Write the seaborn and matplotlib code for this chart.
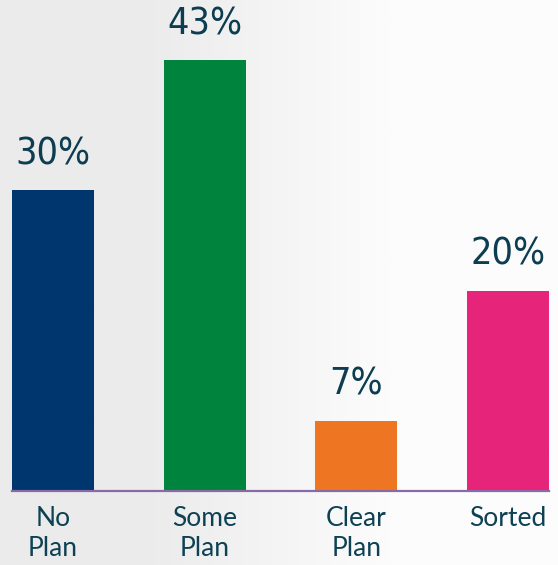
import numpy as np
import pandas as pd
import matplotlib.pyplot as plt
import seaborn as sns

categories = ["No Plan", "Some Plan", "Clear Plan", "Sorted"]
tick_labels = ["No\nPlan", "Some\nPlan", "Clear\nPlan", "Sorted"]
values = [30, 43, 7, 20]
colors = ["#00366e", "#00843d", "#ee7623", "#e6247a"]

df = pd.DataFrame({"plan": categories, "pct": values})

sns.set_style("white")
plt.rcParams["font.family"] = ["Lato", "DejaVu Sans"]

fig = plt.figure(figsize=(5.58, 5.65), dpi=100)

# soft grey-to-white background
bg = fig.add_axes([0, 0, 1, 1], zorder=-1)
grad = np.linspace(0, 1, 300)
grad = np.clip((grad - 0.25) / 0.45, 0, 1)
img = np.tile(grad, (50, 1))
bg.imshow(img, cmap=sns.blend_palette(["#ebebeb", "#fcfcfc"], as_cmap=True),
          aspect="auto", extent=[0, 1, 0, 1])
bg.axis("off")

ax = fig.add_axes([12 / 558, 74 / 565, 537 / 558, 461 / 565])
ax.patch.set_alpha(0)
sns.barplot(data=df, x="plan", y="pct", hue="plan", palette=colors,
            width=0.54, saturation=1, legend=False, linewidth=0, ax=ax)

ax.set_xlim(-0.27, 3.27)
ax.set_ylim(0, 46)
ax.set_xlabel("")
ax.set_ylabel("")
ax.set_yticks([])
ax.set_xticks(range(len(categories)))
ax.set_xticklabels(tick_labels, fontsize=19, color="#0d4153",
                   linespacing=1.25)
ax.tick_params(axis="x", length=0, pad=11)

for s in ["top", "right", "left"]:
    ax.spines[s].set_visible(False)
ax.spines["bottom"].set_color("#8a6aa6")
ax.spines["bottom"].set_linewidth(1.6)

for i, v in enumerate(values):
    ax.annotate(f"{v}%", (i, v), xytext=(0, 13), textcoords="offset points",
                ha="center", va="bottom", fontsize=27, color="#0c3d50",
                family="DejaVu Sans", fontstretch="condensed",
                clip_on=False, annotation_clip=False)

fig.savefig("out.png", dpi=100)
